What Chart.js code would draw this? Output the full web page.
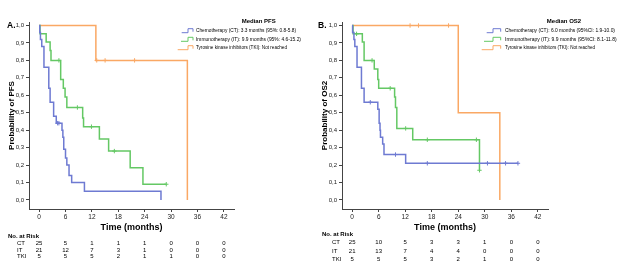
<!DOCTYPE html>
<html lang="en">
<head>
<meta charset="UTF-8">
<title>Kaplan-Meier: PFS and OS2</title>
<script src="https://cdn.jsdelivr.net/npm/chart.js"></script>
<style>
  body { margin: 0; background: #fff; }
  .panel { position: absolute; top: 0; height: 265px; }
  #panelA { left: 0; width: 313px; }
  #panelB { left: 313px; width: 314px; }
</style>
</head>
<body>
<div class="panel" id="panelA"><canvas id="chartA"></canvas></div>
<div class="panel" id="panelB"><canvas id="chartB"></canvas></div>
<script>
// axis ticks (months / probability)
const xTicks = [0, 6, 12, 18, 24, 30, 36, 42];
const yTicks = [0, 0.1, 0.2, 0.3, 0.4, 0.5, 0.6, 0.7, 0.8, 0.9, 1.0];

// Panel A - PFS (step points: time, survival) and censor times
const pfsCtTime = [0, 0.15, 0.3, 0.6, 1.1, 2.2, 2.5, 3.3, 3.9, 5.2, 5.4, 5.6, 6.0, 6.3, 6.8, 7.4, 10.3, 27.7];
const pfsCtSurv = [1, 0.96, 0.92, 0.88, 0.76, 0.64, 0.56, 0.48, 0.44, 0.40, 0.36, 0.29, 0.24, 0.20, 0.14, 0.10, 0.05, 0];
const pfsCtCens = [4.2, 4.5];

const pfsItTime = [0, 0.2, 1.6, 2.5, 2.7, 4.9, 5.5, 5.9, 6.3, 9.9, 10.1, 13.7, 15.8, 20.7, 23.6, 28.9];
const pfsItSurv = [1, 0.952, 0.905, 0.857, 0.80, 0.69, 0.64, 0.59, 0.53, 0.47, 0.42, 0.35, 0.28, 0.185, 0.09, 0.09];
const pfsItCens = [4.5, 8.7, 11.9, 17.1, 28.9];

const pfsTkiTime = [0, 12.9, 33.7];
const pfsTkiSurv = [1, 0.8, 0];
const pfsTkiCens = [13.1, 15.0, 21.7];

// Panel B - OS2
const osCtTime = [0, 0.1, 0.4, 0.6, 1.1, 2.1, 2.7, 5.8, 6.1, 6.3, 6.4, 6.9, 7.2, 12.1, 37.5];
const osCtSurv = [1, 0.96, 0.92, 0.88, 0.76, 0.64, 0.56, 0.52, 0.44, 0.40, 0.36, 0.32, 0.26, 0.21, 0.21];
const osCtCens = [4.1, 9.8, 17.0, 30.6, 34.7, 37.5];

const osItTime = [0, 0.2, 2.3, 2.7, 5.0, 5.8, 6.0, 9.6, 9.8, 10.1, 13.7, 28.8];
const osItSurv = [1, 0.952, 0.905, 0.80, 0.75, 0.69, 0.64, 0.59, 0.53, 0.41, 0.345, 0.17];
const osItCens = [1.0, 4.5, 8.6, 12.1, 17.0, 28.1, 28.8];

const osTkiTime = [0, 24.0, 33.4];
const osTkiSurv = [1, 0.5, 0];
const osTkiCens = [13.1, 15.0, 21.8];

// numbers at risk
const riskGroups = ['CT', 'IT', 'TKI'];
const pfsRiskCt = [25, 5, 1, 1, 1, 0, 0, 0];
const pfsRiskIt = [21, 12, 7, 3, 1, 0, 0, 0];
const pfsRiskTki = [5, 5, 5, 2, 1, 1, 0, 0];
const osRiskCt = [25, 10, 5, 3, 3, 1, 0, 0];
const osRiskIt = [21, 13, 7, 4, 4, 0, 0, 0];
const osRiskTki = [5, 5, 5, 3, 2, 1, 0, 0];

const pfsLegend = ['Chemotherapy (CT): 3.3 months (95%: 0.8-5.8)',
                   'Immunotherapy (IT): 9.9 months (95%: 4.6-15.2)',
                   'Tyrosine kinase inhibitors (TKI): Not reached'];
const osLegend = ['Chemotherapy (CT): 6.0 months (95%CI: 1.9-10.0)',
                  'Immunotherapy (IT): 9.9 months (95%CI: 8.1-11.8)',
                  'Tyrosine kinase inhibitors (TKI): Not reached'];

const colors = ['rgb(110,122,210)', 'rgb(100,200,100)', 'rgb(250,168,100)'];
const FONT = '"Liberation Sans", Arial, sans-serif';

function survAt(time, surv, t) {
    let s = surv[0];
    for (let i = 0; i < time.length; i++) if (time[i] <= t) s = surv[i];
    return s;
}

function makeChart(id, p) {
    const datasets = [];
    p.series.forEach((s, i) => {
        datasets.push({
            data: s.time.map((t, j) => ({ x: t, y: s.surv[j] })),
            showLine: true, stepped: true, borderColor: colors[i], borderWidth: 1.5,
            pointRadius: 0, fill: false
        });
        datasets.push({
            data: s.cens.map(t => ({ x: t, y: survAt(s.time, s.surv, t) })),
            showLine: false, pointStyle: 'cross', pointRadius: 2.2,
            borderColor: colors[i], borderWidth: 1
        });
    });

    const extras = {
        id: 'extras',
        afterDraw(chart) {
            const ctx = chart.ctx;
            const L = p.layout;
            ctx.save();
            ctx.fillStyle = '#000';
            ctx.textBaseline = 'middle';
            // panel letter
            ctx.font = 'bold 8.5px ' + FONT;
            ctx.textAlign = 'left';
            ctx.fillText(p.letter, L.letterX, 26);
            // legend
            ctx.font = 'bold 6px ' + FONT;
            ctx.textAlign = 'center';
            ctx.fillText(p.legendTitle, L.legTitleX, 21);
            ctx.font = '5.5px ' + FONT;
            ctx.textAlign = 'left';
            const legY = [30.7, 39.3, 47.7];
            p.legend.forEach((txt, i) => {
                const y = legY[i];
                ctx.strokeStyle = colors[i];
                ctx.lineWidth = 1;
                ctx.beginPath();
                ctx.moveTo(L.iconStart[i], y + 2);
                ctx.lineTo(L.iconStep, y + 2);
                ctx.lineTo(L.iconStep, y - 2);
                ctx.lineTo(L.iconEnd, y - 2);
                ctx.lineTo(L.iconEnd, y + 1);
                ctx.stroke();
                ctx.fillText(txt, L.legX, y, L.legW[i]);
            });
            // at risk table
            const xs = chart.scales.x;
            ctx.font = 'bold 6px ' + FONT;
            ctx.fillText('No. at Risk', L.riskX, L.riskHeadY);
            ctx.font = '6px ' + FONT;
            p.risk.forEach((row, i) => {
                ctx.textAlign = 'left';
                ctx.fillText(riskGroups[i], L.riskLabelX, L.riskY[i]);
                ctx.textAlign = 'center';
                row.forEach((v, j) => ctx.fillText(String(v), xs.getPixelForValue(xTicks[j]), L.riskY[i]));
            });
            ctx.restore();
        }
    };

    const axisGrid = { drawOnChartArea: false, drawTicks: true, tickLength: 3, color: '#444' };
    return new Chart(document.getElementById(id), {
        type: 'scatter',
        data: { datasets },
        options: {
            responsive: true,
            maintainAspectRatio: false,
            animation: false,
            layout: { padding: { top: 22, right: 79, left: 0, bottom: 0 } },
            plugins: { legend: { display: false }, tooltip: { enabled: false } },
            scales: {
                x: {
                    type: 'linear', min: -2.3, max: 44.3,
                    afterBuildTicks: s => { s.ticks = xTicks.map(v => ({ value: v })); },
                    afterFit: s => { s.height = 56; },
                    grid: axisGrid,
                    border: { display: true, color: '#444', width: 1 },
                    ticks: { font: { family: FONT, size: 6.5 }, color: '#222', padding: 1, maxRotation: 0 },
                    title: { display: true, text: 'Time (months)', color: '#000',
                             font: { family: FONT, size: 9, weight: 'bold' }, padding: { top: 4, bottom: 31.6 } }
                },
                y: {
                    min: -0.052, max: 1.02,
                    afterBuildTicks: s => { s.ticks = yTicks.map(v => ({ value: v })); },
                    afterFit: s => { s.width = 29; },
                    grid: axisGrid,
                    border: { display: true, color: '#444', width: 1 },
                    ticks: { font: { family: FONT, size: 6 }, color: '#222', padding: 2,
                             callback: v => v.toFixed(1).replace('.', ',') },
                    title: { display: true, text: p.yTitle, color: '#000',
                             font: { family: FONT, size: 8, weight: 'bold' }, padding: { top: 7, bottom: 4 } }
                }
            }
        },
        plugins: [extras]
    });
}

makeChart('chartA', {
    letter: 'A.', yTitle: 'Probability of PFS', legendTitle: 'Median PFS', legend: pfsLegend,
    series: [
        { time: pfsCtTime, surv: pfsCtSurv, cens: pfsCtCens },
        { time: pfsItTime, surv: pfsItSurv, cens: pfsItCens },
        { time: pfsTkiTime, surv: pfsTkiSurv, cens: pfsTkiCens }
    ],
    risk: [pfsRiskCt, pfsRiskIt, pfsRiskTki],
    layout: { letterX: 7, legTitleX: 258.7, legX: 196, legW: [100, 105, 91],
              iconStart: [181.7, 181, 177.7], iconStep: 188, iconEnd: 193,
              riskX: 8, riskHeadY: 236.7, riskLabelX: 17, riskY: [243.3, 250.3, 256.7] }
});

makeChart('chartB', {
    letter: 'B.', yTitle: 'Probability of OS2', legendTitle: 'Median OS2', legend: osLegend,
    series: [
        { time: osCtTime, surv: osCtSurv, cens: osCtCens },
        { time: osItTime, surv: osItSurv, cens: osItCens },
        { time: osTkiTime, surv: osTkiSurv, cens: osTkiCens }
    ],
    risk: [osRiskCt, osRiskIt, osRiskTki],
    layout: { letterX: 5, legTitleX: 251, legX: 192, legW: [110, 111.7, 90],
              iconStart: [173.7, 171, 168.7], iconStep: 180, iconEnd: 187.7,
              riskX: 9, riskHeadY: 234, riskLabelX: 19, riskY: [242.3, 251, 259.7] }
});
</script>
</body>
</html>
